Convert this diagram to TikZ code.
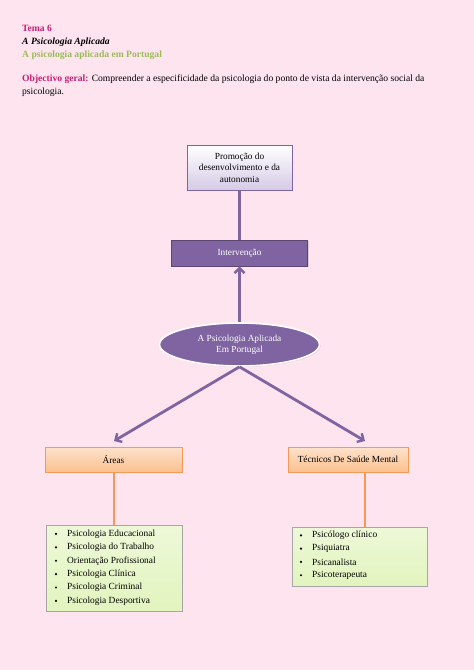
\documentclass[tikz,border=0pt]{standalone}
\usepackage{fontspec}
\setmainfont{Liberation Serif}
\usetikzlibrary{shapes.geometric,arrows.meta,shadows}
\definecolor{bgpink}{HTML}{FDE4EE}
\definecolor{temamag}{HTML}{C81E74}
\definecolor{subgreen}{HTML}{9BBB59}
\definecolor{purp}{HTML}{8064A2}
\definecolor{lav}{HTML}{D5CBE6}
\definecolor{orfill}{HTML}{FBC08E}
\definecolor{orline}{HTML}{F39A5A}
\definecolor{grfill}{HTML}{E2F4BE}
\tikzset{
  x=1pt,y=-1pt,
  lbl/.style={anchor=base west,inner sep=0pt,font=\fontsize{9.6}{11}\selectfont},
  boxlav/.style={draw=purp,line width=0.8pt,top color=white,bottom color=lav,font=\fontsize{9.3}{11.5}\selectfont,align=center,inner sep=0pt,drop shadow={opacity=0.25,shadow xshift=1pt,shadow yshift=-1pt}},
  boxpur/.style={draw=purp!70!black,line width=0.8pt,fill=purp,text=white,font=\fontsize{9.3}{11}\selectfont,inner sep=0pt,drop shadow={opacity=0.25,shadow xshift=1pt,shadow yshift=-1pt}},
  boxor/.style={draw=orline,line width=0.6pt,top color=orfill!45,bottom color=orfill,font=\fontsize{9.3}{11}\selectfont,inner sep=0pt,drop shadow={opacity=0.25,shadow xshift=1pt,shadow yshift=-1pt}},
  boxgr/.style={draw=gray!70,line width=0.5pt,top color=grfill!60,bottom color=grfill,inner sep=0pt,drop shadow={opacity=0.25,shadow xshift=1pt,shadow yshift=-1pt}},
  item/.style={anchor=west,inner sep=0pt,font=\fontsize{9.4}{11}\selectfont},
  dotb/.style={circle,fill=black,inner sep=0pt,minimum size=2.4pt},
  plink/.style={draw=purp,line width=2.8pt},
  parrow/.style={draw=purp,line width=2.8pt,-{Straight Barb[length=5pt,width=10pt,line width=2.4pt]}},
  olink/.style={draw=orline,line width=2.6pt},
}
\begin{document}
\begin{tikzpicture}
\fill[bgpink] (0,0) rectangle (474,670);
\useasboundingbox (0,0) rectangle (474,670);
% header
\node[lbl,text=temamag,font=\fontsize{9.6}{11}\selectfont\bfseries] (t1) at (22,31) {Tema 6};
\node[lbl,font=\fontsize{9.6}{11}\selectfont\bfseries\itshape] (t2) at (22,44) {A Psicologia Aplicada};
\node[lbl,text=subgreen,font=\fontsize{9.6}{11}\selectfont\bfseries] (t3) at (22,57) {A psicologia aplicada em Portugal};
\node[lbl] (t4) at (22,81) {\textcolor{temamag}{\textbf{Objectivo geral:}} Compreender a especificidade da psicologia do ponto de vista da intervenção social da};
\node[lbl] (t5) at (22,94) {psicologia.};
% diagram
\node[boxlav,minimum width=105pt,minimum height=45pt] (prom) at (239.5,167.5) {Promoção do\\desenvolvimento e da\\autonomia};
\node[boxpur,minimum width=136pt,minimum height=26pt] (interv) at (239.5,253) {Intervenção};
\node[ellipse,fill=purp,draw=white,line width=1.6pt,text=white,font=\fontsize{9.3}{11}\selectfont,align=center,minimum width=160pt,minimum height=43pt,inner sep=0pt,drop shadow={opacity=0.25,shadow xshift=1pt,shadow yshift=-1pt}] (ell) at (239.5,344.5) {A Psicologia Aplicada\\Em Portugal};
\node[boxor,minimum width=137pt,minimum height=25pt] (areas) at (113.5,459.5) {Áreas};
\node[boxor,minimum width=120pt,minimum height=25pt] (tec) at (348,459.5) {Técnicos De Saúde Mental};
\node[boxgr,minimum width=136pt,minimum height=86pt] (l1) at (114,568) {};
\node[boxgr,minimum width=135pt,minimum height=59pt] (l2) at (359.5,556.5) {};
% connectors
\draw[plink] (prom.south) -- (interv.north);
\draw[parrow] (ell.north) -- (interv.south);
\coordinate (ebot) at (ell.south);
\coordinate (a1) at (114,441);
\coordinate (a2) at (365,441);
\draw[parrow] (ebot) -- (a1);
\draw[parrow] (ebot) -- (a2);
\draw[olink] (areas.south -| l1.north) -- (l1.north);
\draw[olink] (tec.south -| 365,0) -- (365,527);
% list 1
\foreach \t [count=\i] in {Psicologia Educacional,Psicologia do Trabalho,Orientação Profissional,Psicologia Clínica,Psicologia Criminal,Psicologia Desportiva}{
  \node[dotb] (b1\i) at (56,{520.5+13.4*\i}) {};
  \node[item] (i1\i) at (67,{520.5+13.4*\i}) {\t};
}
\foreach \t [count=\i] in {Psicólogo clínico,Psiquiatra,Psicanalista,Psicoterapeuta}{
  \node[dotb] (b2\i) at (301,{522+13.3*\i}) {};
  \node[item] (i2\i) at (312,{522+13.3*\i}) {\t};
}
\end{tikzpicture}
\end{document}
